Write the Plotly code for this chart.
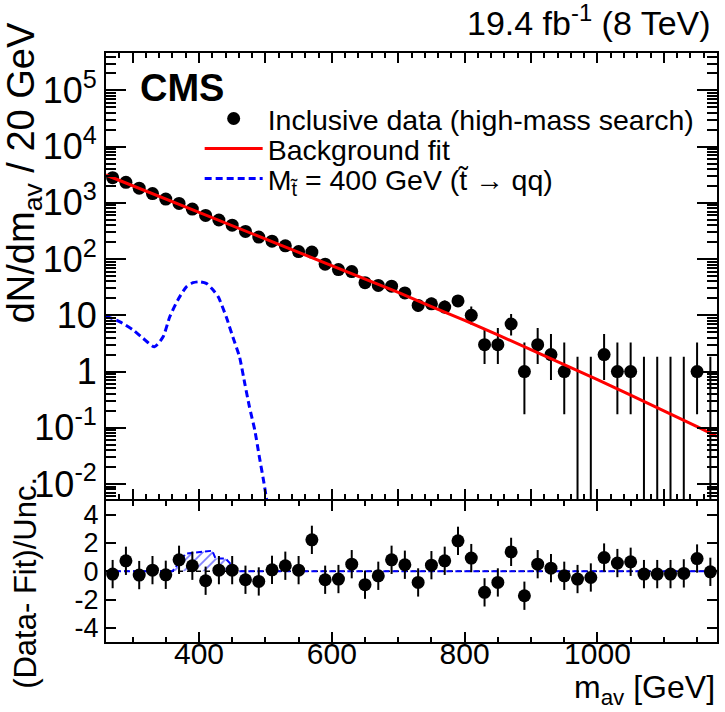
import plotly.graph_objects as go

# ---------------- data ----------------
mass = [270, 290, 310, 330, 350, 370, 390, 410, 430, 450, 470, 490, 510, 530, 550,
        570, 590, 610, 630, 650, 670, 690, 710, 730, 750, 770, 790, 810, 830, 850,
        870, 890, 910, 930, 950, 970, 990, 1010, 1030, 1050, 1070, 1090, 1110, 1130,
        1150, 1170]
counts = [2800, 2320, 1820, 1460, 1165, 975, 775, 598, 495, 400, 310, 246, 208, 172, 136,
          133, 81, 65, 60, 38, 34, 33, 25, 15, 16, 14, 18, 10, 3, 3,
          7, 1, 3, 2, 1, 0, 0, 2, 1, 1, 0, 0, 0, 0,
          1, 0]
pulls = [-0.2, 0.74, -0.27, 0.08, -0.25, 0.81, 0.39, -0.67, 0.08, 0.08, -0.6, -0.72, 0.1, 0.39, 0.08,
         2.22, -0.6, -0.55, 0.5, -0.95, -0.32, 0.81, 0.46, -0.79, 0.43, 0.74, 2.15, 0.93, -1.49, -0.79,
         1.37, -1.73, 0.5, 0.22, -0.32, -0.55, -0.44, 0.97, 0.58, 0.67, -0.2, -0.2, -0.2, -0.15,
         0.9, -0.04]

fit_mass = [260, 300, 350, 400, 450, 500, 550, 600, 650, 700, 750, 800, 850, 900, 950, 1000, 1050, 1100, 1150, 1180]
fit_vals = [3126, 2023, 1173, 682, 396, 230, 134, 77.1, 44.5, 25.6, 14.3, 8.15, 4.48, 2.46, 1.35,
            0.718, 0.382, 0.202, 0.105, 0.070]

sig_mass = [260, 281, 301, 316, 333, 346, 356, 368, 381, 391, 401, 411, 421, 429, 441, 451, 461,
            469, 476, 484, 491, 498, 505]
sig_vals = [9.7, 7.65, 5.46, 3.88, 2.75, 4.14, 9.4, 18.6, 32.1, 38.0, 39.5, 37.0, 28.5, 21.3, 9.4,
            4.1, 1.83, 0.61, 0.235, 0.091, 0.030, 0.0102, 0.003]

sigpull_mass = [260, 360, 380, 400, 420, 425, 440, 458, 1180]
sigpull_vals = [0, 0, 1.25, 1.35, 1.45, 0.9, 0.9, 0, 0]

ytick_vals = [1e-2, 1e-1, 1, 10, 1e2, 1e3, 1e4, 1e5]
ytick_text = ["10<sup>-2</sup>", "10<sup>-1</sup>", "1", "10", "10<sup>2</sup>",
              "10<sup>3</sup>", "10<sup>4</sup>", "10<sup>5</sup>"]
pull_ticks = [-4, -2, 0, 2, 4]
pull_text = ["-4", "-2", "0", "2", "4"]
x_ticks = [400, 600, 800, 1000]

# Garwood 68% intervals for small counts
garwood = {0: (0.0, 1.841), 1: (0.173, 3.300), 2: (0.708, 4.638), 3: (1.367, 5.918),
           7: (4.354, 10.513), 10: (6.891, 14.267)}
err_up, err_dn, y_plot = [], [], []
for n in counts:
    if n in garwood:
        lo, hi = garwood[n]
    else:
        s = (n + 0.25) ** 0.5
        lo, hi = n - s + 0.5, n + s + 0.5
    yv = n if n > 0 else 1e-4
    y_plot.append(yv)
    err_up.append(hi - yv)
    err_dn.append(yv - lo if n > 0 else 0)

FONT = "Liberation Sans, Arial, Helvetica, sans-serif"

fig = go.Figure()

# main panel
fig.add_trace(go.Scatter(
    x=mass, y=y_plot, mode="markers", name="Inclusive data (high-mass search)",
    marker=dict(color="black", size=13),
    error_y=dict(type="data", array=err_up, arrayminus=err_dn, color="black", thickness=2, width=0),
    xaxis="x", yaxis="y", legend="legend"))
fig.add_trace(go.Scatter(
    x=fit_mass, y=fit_vals, mode="lines", name="Background fit",
    line=dict(color="#ff0000", width=3), xaxis="x", yaxis="y", legend="legend2"))
fig.add_trace(go.Scatter(
    x=sig_mass, y=sig_vals, mode="lines", name="M<sub>t̃</sub> = 400 GeV (t̃ → qq)",
    line=dict(color="#0000ff", width=3, dash="7px,4px", shape="spline", smoothing=0.6),
    xaxis="x", yaxis="y", legend="legend3"))

# lower panel
fig.add_trace(go.Scatter(
    x=[260, 1180], y=[0, 0], mode="lines", line=dict(color="black", width=1.5, dash="5px,4px"),
    xaxis="x2", yaxis="y2", showlegend=False))
fig.add_trace(go.Scatter(
    x=sigpull_mass, y=sigpull_vals, mode="lines", fill="tozeroy",
    fillcolor="rgba(0,0,0,0)",
    fillpattern=dict(shape="/", fgcolor="#0000ff", bgcolor="rgba(0,0,0,0)", size=7, solidity=0.25),
    line=dict(color="#0000ff", width=2, dash="6px,3px"),
    xaxis="x2", yaxis="y2", showlegend=False))
fig.add_trace(go.Scatter(
    x=mass, y=pulls, mode="markers", marker=dict(color="black", size=13),
    error_y=dict(type="constant", value=1, color="black", thickness=2, width=0),
    xaxis="x2", yaxis="y2", showlegend=False))

axis_common = dict(showline=True, linecolor="black", linewidth=2, mirror="allticks",
                   ticks="inside", tickcolor="black", tickwidth=2, showgrid=False, zeroline=False)

minor_y = [m * 10 ** e for e in range(-3, 6) for m in range(2, 10)]

leg_common = dict(xanchor="left", yanchor="middle", bgcolor="rgba(0,0,0,0)",
                  font=dict(size=28.5), itemwidth=58)
LEGX = 0.1533

fig.update_layout(
    width=725, height=712,
    margin=dict(l=106, r=6, t=53, b=70),
    paper_bgcolor="white", plot_bgcolor="white",
    font=dict(family=FONT, color="black"),
    xaxis=dict(domain=[0, 1], anchor="y", range=[260, 1180], dtick=100, tick0=0, ticklen=10,
               showticklabels=False,
               minor=dict(dtick=20, tick0=0, ticklen=5, ticks="inside", tickcolor="black", tickwidth=2),
               **axis_common),
    yaxis=dict(domain=[0.2425, 1], anchor="x", type="log", range=[-2.27, 5.665],
               tickvals=ytick_vals, ticktext=ytick_text, ticklen=20, tickfont=dict(size=36),
               minor=dict(tickvals=minor_y, ticklen=10, ticks="inside", tickcolor="black", tickwidth=2),
               **axis_common),
    xaxis2=dict(domain=[0, 1], anchor="y2", range=[260, 1180], tickvals=x_ticks, ticklen=10,
                tickfont=dict(size=30), ticklabelstandoff=-16,
                minor=dict(dtick=50, tick0=0, ticklen=5, ticks="inside", tickcolor="black", tickwidth=2),
                **axis_common),
    yaxis2=dict(domain=[0, 0.2402], anchor="x2", range=[-5, 5], tickvals=pull_ticks, ticktext=pull_text,
                ticklen=10, tickfont=dict(size=27), **axis_common),
    legend=dict(x=LEGX, y=0.888, **leg_common),
    legend2=dict(x=LEGX, y=0.837, **leg_common),
    legend3=dict(x=LEGX, y=0.786, **leg_common),
    annotations=[
        dict(text="<b>CMS</b>", x=0.052, y=0.9406, xref="paper", yref="paper", xanchor="left",
             yanchor="middle", showarrow=False, font=dict(size=38)),
        dict(text="19.4 fb<sup>-1</sup> (8 TeV)", x=0.9935, y=1.016, xref="paper", yref="paper",
             xanchor="right", yanchor="bottom", showarrow=False, font=dict(size=34)),
        dict(text="dN/dm<sub>av</sub> / 20 GeV", x=-0.134, y=0.796, xref="paper", yref="paper",
             textangle=-90, showarrow=False, font=dict(size=38), xanchor="center", yanchor="middle"),
        dict(text="(Data- Fit)/Unc.", x=-0.132, y=0.101, xref="paper", yref="paper",
             textangle=-90, showarrow=False, font=dict(size=31), xanchor="center", yanchor="middle"),
        dict(text="m<sub>av</sub> [GeV]", x=1.0, y=-0.118, xref="paper", yref="paper",
             xanchor="right", yanchor="bottom", showarrow=False, font=dict(size=32)),
    ],
)

fig.write_html("out.html")
